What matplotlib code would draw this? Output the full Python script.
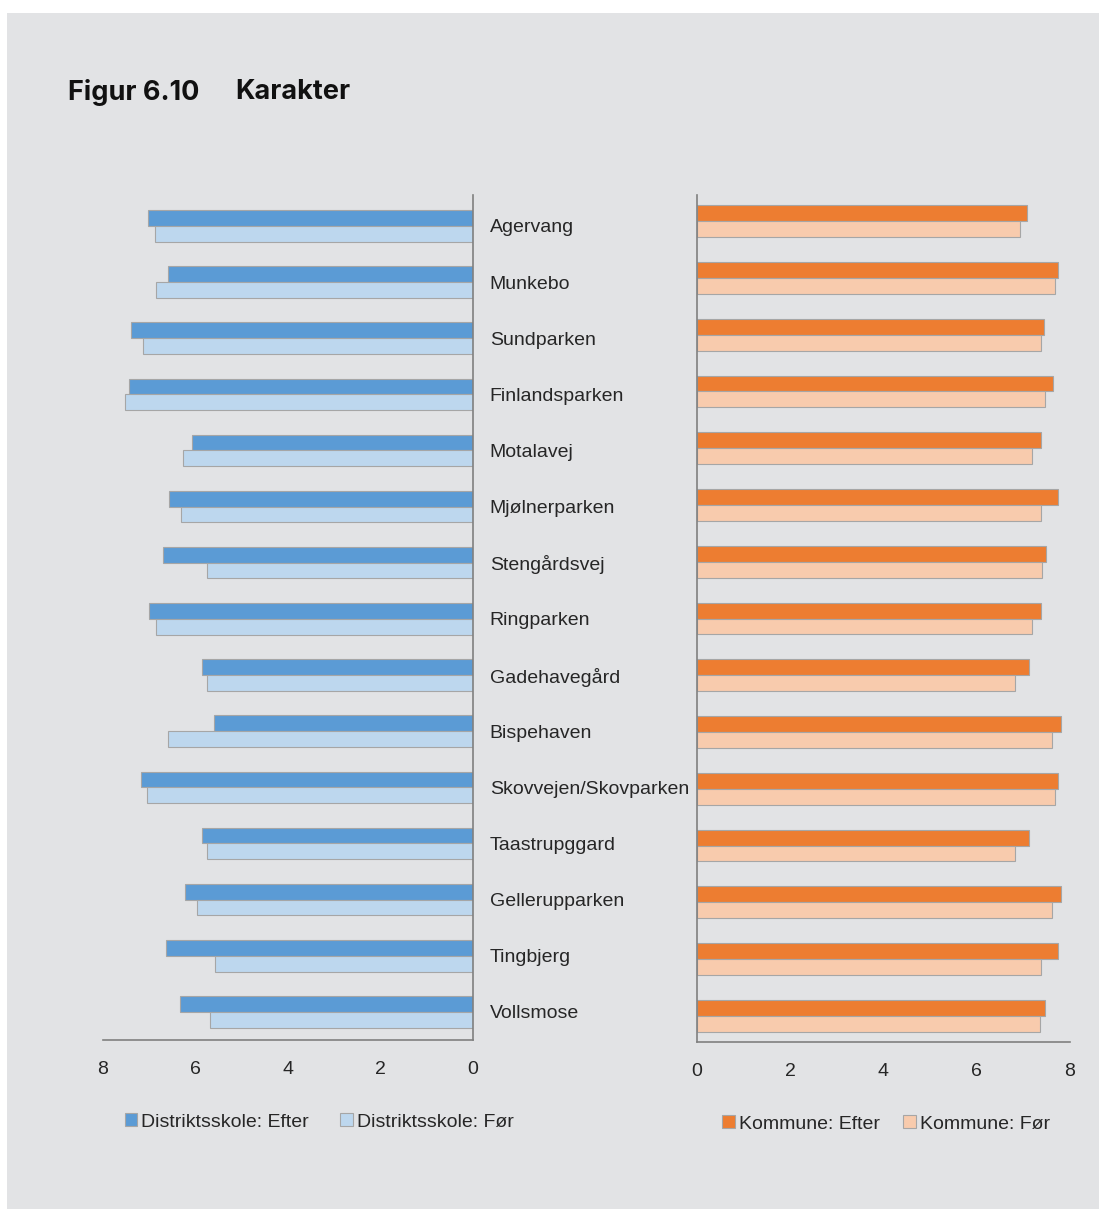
import matplotlib
matplotlib.use("Agg")
from matplotlib import pyplot as plt
from matplotlib.patches import Rectangle
import numpy as np

omraader = ["Agervang", "Munkebo", "Sundparken", "Finlandsparken", "Motalavej",
            "Mjølnerparken", "Stengårdsvej", "Ringparken", "Gadehavegård", "Bispehaven",
            "Skovvejen/Skovparken", "Taastrupggard", "Gellerupparken", "Tingbjerg", "Vollsmose"]

distrikt_efter = [7.03, 6.59, 7.39, 7.44, 6.08, 6.57, 6.70, 7.00, 5.86, 5.60, 7.18, 5.86, 6.23, 6.64, 6.34]
distrikt_foer = [6.88, 6.85, 7.14, 7.52, 6.27, 6.31, 5.75, 6.85, 5.75, 6.59, 7.05, 5.75, 5.97, 5.58, 5.69]

kommune_efter = [7.08, 7.75, 7.45, 7.64, 7.38, 7.75, 7.49, 7.38, 7.12, 7.81, 7.75, 7.12, 7.81, 7.75, 7.47]
kommune_foer = [6.93, 7.68, 7.38, 7.47, 7.19, 7.38, 7.40, 7.19, 6.82, 7.62, 7.68, 6.82, 7.62, 7.38, 7.36]

ticks = [0, 2, 4, 6, 8]

BG = "#E2E3E5"
EDGE = "#A6A6A6"
AXC = "#808080"
TXT = "#262626"

plt.rcParams['font.family'] = ['Liberation Sans', 'DejaVu Sans']

fig = plt.figure(figsize=(10.99, 12.09), dpi=100)
fig.patch.set_facecolor("white")
fig.patches.append(Rectangle((7 / 1099, 0), 1 - 7 / 1099, 1 - 13 / 1209,
                             transform=fig.transFigure, facecolor=BG, edgecolor="none", zorder=-10))

fig.text(68 / 1099, 1 - 92 / 1209, "Figur 6.10", fontsize=19.5, fontweight="bold",
         family=["Inter", "DejaVu Sans"], va="center", ha="left", color="#111111")
fig.text(235 / 1099, 1 - 92 / 1209, "Karakter", fontsize=19.5, fontweight="bold",
         family=["Inter", "DejaVu Sans"], va="center", ha="left", color="#111111")

y = np.arange(len(omraader))
h = 0.28

ax1 = fig.add_axes([103 / 1099, 1 - 1040 / 1209, 370 / 1099, 845 / 1209])
ax2 = fig.add_axes([697 / 1099, 1 - 1042 / 1209, 373 / 1099, 847 / 1209])

def draw(ax, efter, foer, c1, c2, lab1, lab2):
    ax.set_facecolor("none")
    ax.barh(y - h / 2, efter, height=h, color=c1, edgecolor=EDGE, linewidth=0.8, label=lab1)
    ax.barh(y + h / 2, foer, height=h, color=c2, edgecolor=EDGE, linewidth=0.8, label=lab2)
    ax.set_xticks(ticks)
    ax.tick_params(axis="x", length=0, pad=15, labelsize=14, labelcolor=TXT)
    for s in ax.spines.values():
        s.set_color(AXC)
        s.set_linewidth(1.2)
    ax.spines["top"].set_visible(False)

draw(ax1, distrikt_efter, distrikt_foer, "#5B9BD5", "#BDD7EE",
     "Distriktsskole: Efter", "Distriktsskole: Før")
ax1.set_xlim(8, 0)
ax1.set_ylim(len(omraader) - 0.5, -0.55)
ax1.spines["left"].set_visible(False)
ax1.yaxis.tick_right()
ax1.set_yticks(y)
ax1.set_yticklabels(omraader)
ax1.tick_params(axis="y", length=0, pad=12, labelsize=14, labelcolor=TXT)

draw(ax2, kommune_efter, kommune_foer, "#ED7D31", "#F8CBAD",
     "Kommune: Efter", "Kommune: Før")
ax2.set_xlim(0, 8)
ax2.set_ylim(len(omraader) - 0.54, -0.46)
ax2.spines["right"].set_visible(False)
ax2.set_yticks([])

for ax, cx, cs in [(ax1, 0.584, 1.6), (ax2, 0.507, 1.2)]:
    ax.legend(loc="center", bbox_to_anchor=(cx, -0.097), ncol=2, frameon=False,
              fontsize=14, handlelength=0.65, handleheight=0.65, handletextpad=0.2,
              columnspacing=cs, labelcolor=TXT)

plt.savefig("out.png", dpi=100, facecolor=fig.get_facecolor())
